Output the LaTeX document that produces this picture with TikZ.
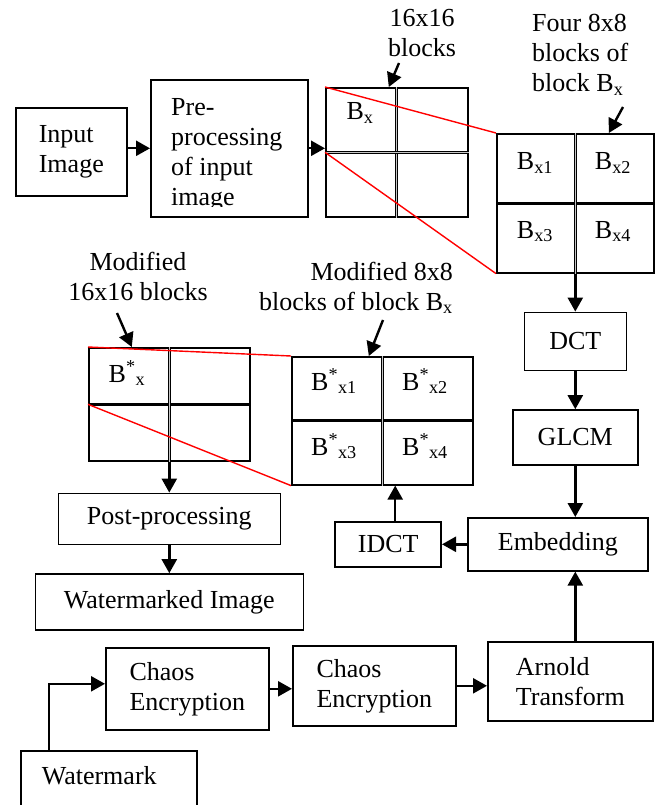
\documentclass[tikz,border=0pt]{standalone}
\usepackage{fontspec}
\setmainfont{Liberation Serif}
\usetikzlibrary{arrows.meta,positioning}

\begin{document}
\begin{tikzpicture}[
  x=1pt,y=-1pt,
  font=\fontsize{26}{30}\selectfont,
  box/.style={draw,line width=1.6pt,inner sep=0pt,align=left},
  grid/.style={draw,line width=1.6pt,inner sep=0pt},
  txt/.style={inner sep=0pt},
  arr/.style={-{Triangle[length=14pt,width=15pt]},line width=2.4pt},
  zoomline/.style={red,line width=1.4pt},
  vsplit/.style={line width=1.1pt,double=gray!45,double distance=1.1pt},
  hsplit/.style={line width=3.2pt}
]
\useasboundingbox[fill=white] (0,0) rectangle (660,805);

% input side
\node[box,minimum width=111pt,minimum height=88pt,anchor=north west] (inp) at (15,107) {Input\\Image};
\node[box,minimum width=157pt,minimum height=137pt,anchor=north west] (pre) at (150,79) {};
% last line runs out of the box, cut it
\begin{scope}
  \clip (150,79) rectangle (307,206);
  \node[txt,anchor=base west,align=left] (pretext) at (171,205) {Pre-\\processing\\of input\\image};
\end{scope}

% 16x16 blocks
\node[grid,minimum width=142pt,minimum height=129pt,anchor=north west] (blk) at (325,87) {};
\draw[vsplit] (blk.north) -- (blk.south);
\draw[vsplit] (blk.west) -- (blk.east);
\node[txt,anchor=base] (bx) at (360,120) {B\textsubscript{x}};
\node[txt,align=center,anchor=base] (lblk) at (422,57) {16x16\\blocks};
\coordinate (pblk) at (399,63);

% four 8x8 blocks
\node[grid,minimum width=157pt,minimum height=139pt,anchor=north west] (sub) at (496,133) {};
\draw[hsplit] (sub.west) -- (sub.east);
\draw[vsplit] (sub.north) -- (sub.south);
\node[txt,anchor=base] (bx1) at (535,170) {B\textsubscript{x1}};
\node[txt,anchor=base] (bx2) at (613,170) {B\textsubscript{x2}};
\node[txt,anchor=base] (bx3) at (535,238) {B\textsubscript{x3}};
\node[txt,anchor=base] (bx4) at (613,238) {B\textsubscript{x4}};
\node[txt,align=left,anchor=base west] (lsub) at (532,92) {Four 8x8\\blocks of\\block B\textsubscript{x}};
\coordinate (psub) at (623,107);

\draw[zoomline] (blk.north west) -- (sub.north west);
\draw[zoomline] (blk.west) -- (sub.south west);

% DCT / GLCM / embedding column
\node[box,minimum width=102pt,minimum height=58pt,below=38pt of sub] (dct) {DCT};
\node[box,minimum width=125pt,minimum height=55pt,below=38pt of dct] (glcm) {GLCM};
\node[box,minimum width=180pt,minimum height=53pt,anchor=north west] (emb) at (467,517) {Embedding};
\node[box,minimum width=106pt,minimum height=45pt,left=25pt of emb] (idct) {IDCT};

% modified 8x8 blocks
\node[grid,minimum width=181pt,minimum height=128pt,anchor=north west] (msub) at (291,356) {};
\draw[hsplit] (msub.west) -- (msub.east);
\draw[vsplit] (msub.north) -- (msub.south);
\node[txt,anchor=base] (mbx1) at (334,390) {B\textsuperscript{*}\textsubscript{x1}};
\node[txt,anchor=base] (mbx2) at (425,390) {B\textsuperscript{*}\textsubscript{x2}};
\node[txt,anchor=base] (mbx3) at (334,455) {B\textsuperscript{*}\textsubscript{x3}};
\node[txt,anchor=base] (mbx4) at (425,455) {B\textsuperscript{*}\textsubscript{x4}};
\node[txt,align=right,anchor=base east] (lmsub) at (453,310) {Modified 8x8\\blocks of block B\textsubscript{x}};
\coordinate (pmsub) at (383,320);

% modified 16x16 blocks
\node[grid,minimum width=161pt,minimum height=113pt,anchor=north west] (mblk) at (88,347) {};
\draw[hsplit] (mblk.west) -- (mblk.east);
\draw[vsplit] (mblk.north) -- (mblk.south);
\node[txt,anchor=base] (mbx) at (127,382) {B\textsuperscript{*}\textsubscript{x}};
\node[txt,align=center,anchor=base] (lmblk) at (138,300) {Modified\\16x16 blocks};
\coordinate (pmblk) at (117,313);

\draw[zoomline] (mblk.north west) -- (msub.north west);
\draw[zoomline] (mblk.west) -- (msub.south west);

\node[box,minimum width=222pt,minimum height=51pt,below=31pt of mblk] (post) {Post-processing};
\node[box,minimum width=268pt,minimum height=56pt,below=28pt of post] (wmimg) {Watermarked Image};

% watermark chain
\node[box,minimum width=163pt,minimum height=82pt,anchor=north west] (enc1) at (105,647) {Chaos\\Encryption};
\node[box,minimum width=163pt,minimum height=80pt,anchor=north west] (enc2) at (292,645) {Chaos\\Encryption};
\node[box,minimum width=165pt,minimum height=79pt,anchor=north west] (arn) at (487,641) {Arnold\\Transform};
\node[box,anchor=north west,inner xsep=21pt,text width=134pt,text height=34pt,text depth=60pt] (wm) at (20,750) {Watermark};

% arrows
\draw[arr] (inp.east |- pre.west) -- (pre.west);
\draw[arr] (pre.east) -- (pre.east -| blk.west);
\draw[arr] (pblk) -- ([xshift=-8pt]blk.north);
\draw[arr] (psub) -- ([xshift=33.5pt]sub.north);
\draw[arr] (sub) -- (dct);
\draw[arr] (dct) -- (glcm);
\draw[arr] (glcm) -- (glcm |- emb.north);
\draw[arr] (glcm |- arn.north) -- (glcm |- emb.south);
\draw[arr] (emb) -- (idct);
\draw[arr] ([xshift=7pt]idct.north) -- ([xshift=7pt]idct.north |- msub.south);
\draw[arr] (pmsub) -- ([xshift=-13.5pt]msub.north);
\draw[arr] (pmblk) -- ([xshift=-37.5pt]mblk.north);
\draw[arr] (mblk) -- (post);
\draw[arr] (post) -- (wmimg);
\draw[arr] ([xshift=29pt]wm.north west) |- ([yshift=5pt]enc1.west);
\draw[arr] (enc1.east) -- (enc1.east -| enc2.west);
\draw[arr] (enc2.east) -- (enc2.east -| arn.west);
\end{tikzpicture}
\end{document}
